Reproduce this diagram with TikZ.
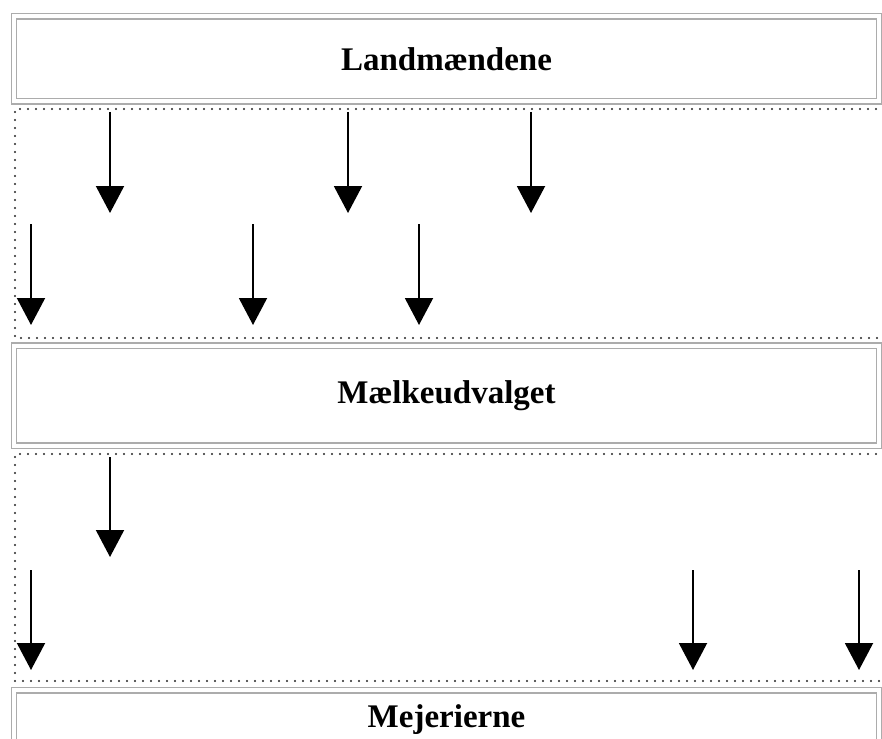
\documentclass[tikz,border=0pt]{standalone}
\usepackage{fontspec}
\setmainfont{Liberation Serif}
\usetikzlibrary{arrows.meta}
\tikzset{
  boks/.style={draw=gray!65, double=white, double distance=4pt, line width=1.4pt,
    minimum width=865pt, inner sep=0pt, font=\fontsize{33}{40}\selectfont\bfseries},
  ramme/.style={draw=black!85, line width=2.2pt, dash pattern=on 0pt off 8pt, line cap=round},
  pil/.style={line width=2pt, -{Triangle[width=28pt,length=27pt]}}
}
\begin{document}
\begin{tikzpicture}[x=1pt, y=-1pt]
\clip (0,0) rectangle (882,738);
\fill[white] (0,0) rectangle (882,738);
% kasser
\node[boks, minimum height=85pt] (land) at (446.5,59) {Landmændene};
\node[boks, minimum height=100pt] (udvalg) at (446.5,395.5) {Mælkeudvalget};
\node[boks, minimum height=58pt, anchor=north] (mejeri) at (446.5,689.5) {Mejerierne};
% stiplede rammer
\draw[ramme] (900,109) -- (15,109) -- (15,338) -- (900,338);
\draw[ramme] (900,454) -- (15,454) -- (15,681) -- (900,681);
% pile fra landmaendene
\foreach \x/\y [count=\i] in {110/112, 348/112, 531/112, 31/224, 253/224, 419/224}{
  \coordinate (l\i) at (\x,\y);
  \coordinate (lm\i) at (\x,\y+101);
  \draw[pil] (l\i) -- (lm\i);
}
% pile til mejerierne
\foreach \x/\y [count=\i] in {110/457, 31/570, 693/570, 859/570}{
  \coordinate (u\i) at (\x,\y);
  \coordinate (um\i) at (\x,\y+100);
  \draw[pil] (u\i) -- (um\i);
}
\end{tikzpicture}
\end{document}
